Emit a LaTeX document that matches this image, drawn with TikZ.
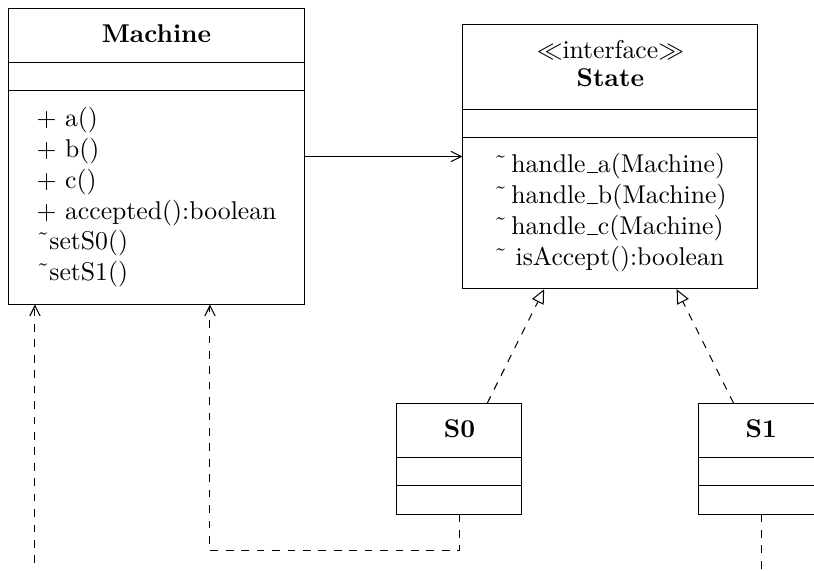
\documentclass[tikz,border=0pt]{standalone}
\usetikzlibrary{shapes.multipart,arrows.meta}
\tikzset{
  umlclass/.style={draw, rectangle split, rectangle split parts=3,
    inner ysep=5.25pt, minimum width=114.8pt},
  smallclass/.style={umlclass, minimum width=48.6pt},
  assoc/.style={-{Straight Barb[length=4pt,width=4pt]}},
  dep/.style={dashed, -{Straight Barb[length=4pt,width=4pt]}},
  impl/.style={dashed, -{Triangle[open,length=5.5pt,width=5pt]}}
}
\newcommand{\cname}[1]{\textbf{#1}\vphantom{()}}
\newcommand{\pkg}{{\char"02DC}}
\newcommand{\us}{\leavevmode\kern.06em\vbox{\hrule width.42em}}
\newcommand{\nix}{\hbox to 0.1pt{\vrule width 0pt height 0.1pt\hss}} % leerer Teil
\begin{document}
\begin{tikzpicture}
\useasboundingbox (0,0) rectangle (11.13,7.806);
\clip (0,0) rectangle (11.13,7.806);
\node[umlclass] (machine) at (2.14,5.666) {\cname{Machine}
  \nodepart{two}\nix
  \nodepart{three}\begin{tabular}{@{}l@{}}
  $+$ a()\\ $+$ b()\\ $+$ c()\\ $+$ accepted():boolean\\ \pkg setS0()\\ \pkg setS1()
  \end{tabular}};
\node[umlclass] (state) at (8.346,5.666) {\def\arraystretch{0.92}\begin{tabular}{@{}c@{}}
  $\ll$interface$\gg$\\ \textbf{State}\end{tabular}
  \nodepart{two}\nix
  \nodepart{three}\begin{tabular}{@{}l@{}}
  \pkg\,handle\us a(Machine)\\ \pkg\,handle\us b(Machine)\\ \pkg\,handle\us c(Machine)\\ \pkg\ isAccept():boolean
  \end{tabular}};
\node[smallclass] (s0) at (6.282,1.531) {\cname{S0}\nodepart{two}\nix\nodepart{three}\nix};
\node[smallclass] (s1) at (10.41,1.531) {\cname{S1}\nodepart{two}\nix\nodepart{three}\nix};
\coordinate (bend0) at (2.871,0.273); % Knick unter S0
\coordinate (bend1) at (0.478,-0.5); % Knick unter S1
\draw[assoc] (machine) -- (state);
\draw[impl] (s0) -- (state);
\draw[impl] (s1) -- (state);
\draw[dep] (s0.south) |- (bend0) -- (bend0 |- machine.south);
\draw[dep] (s1.south) |- (bend1) -- (bend1 |- machine.south);
\end{tikzpicture}
\end{document}
